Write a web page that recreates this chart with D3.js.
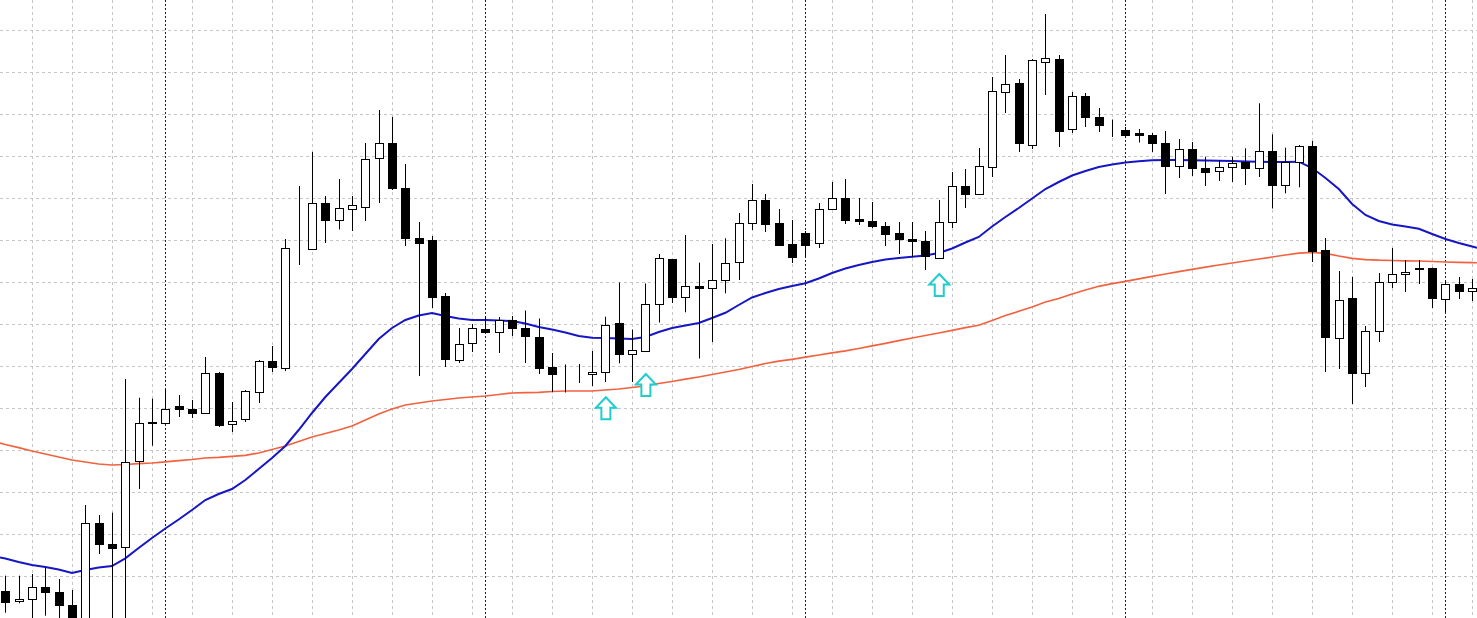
<!DOCTYPE html>
<html>
<head>
<meta charset="utf-8">
<script src="https://cdn.jsdelivr.net/npm/d3@7"></script>
<style>
  html, body { margin: 0; padding: 0; background: #ffffff; overflow: hidden; }
  svg { display: block; }
</style>
</head>
<body>
<svg id="chart" width="1477" height="618"></svg>
<script>
// ---------------- DATA (H1 bars, index 0..110) ----------------
const opens = [1.10273,1.1017,1.1019,1.10307,1.1026,1.1013,1.0996,1.10947,1.10737,1.1071,
1.1157,1.11945,1.11955,1.1212,1.1209,1.1205,1.1245,1.1194,1.1199,1.1226,
1.1257,1.1250,1.1370,1.1369,1.1415,1.13975,1.1409,1.1411,1.1460,1.1475,
1.1430,1.1380,1.1378,1.1322,1.1258,1.1275,1.1289,1.1286,1.1298,1.1290,
1.1281,1.12505,1.1244,1.1244,1.1244,1.1246,1.1295,1.1264,1.1267,1.13137,
1.13587,1.13207,1.1332,1.13297,1.13375,1.13557,1.1395,1.1418,1.1395,1.1374,
1.1385,1.1375,1.1409,1.1420,1.1399,1.1397,1.1392,1.1385,1.1379,1.1377,
1.1360,1.1396,1.1432,1.1424,1.1451,1.1526,1.1535,1.1473,1.1556,1.1559,
1.1489,1.1522,1.1501,1.14925,1.1488,1.14847,1.1483,1.1475,1.1452,1.14687,
1.1450,1.1447,1.14507,1.1456,1.1450,1.1467,1.1433,1.1456,1.1472,1.1368,
1.1280,1.1320,1.1245,1.1287,1.1336,1.1344,1.1349,1.1350,1.1319,1.1334,1.1327];

const highs = [1.10423,1.10423,1.1044,1.10503,1.1039,1.1028,1.1113,1.1103,1.11053,1.1239,
1.12203,1.12193,1.1229,1.1223,1.1218,1.1261,1.1246,1.1216,1.1228,1.1258,
1.1272,1.1379,1.1432,1.1466,1.1422,1.1439,1.1422,1.1475,1.1508,1.1501,
1.1454,1.1396,1.1382,1.1325,1.1290,1.1294,1.1302,1.1301,1.1302,1.13075,
1.12995,1.1265,1.12535,1.1254,1.1267,1.13013,1.13355,1.12885,1.13345,1.1364,
1.1359,1.1383,1.13553,1.1374,1.13797,1.1405,1.1434,1.1424,1.1409,1.1398,
1.1387,1.1415,1.1436,1.1439,1.1420,1.1416,1.1396,1.1396,1.1396,1.1387,
1.1418,1.1446,1.1449,1.1470,1.1541,1.1563,1.1539,1.1559,1.1604,1.1563,
1.1526,1.1525,1.1510,1.14985,1.1491,1.1489,1.1485,1.1487,1.1479,1.1476,
1.14613,1.1458,1.14613,1.14697,1.15147,1.14837,1.14703,1.1473,1.1477,1.1380,
1.1347,1.1341,1.1292,1.1345,1.1370,1.1358,1.1358,1.13505,1.1337,1.1341,1.1339];

const lows = [1.10053,1.10147,1.0996,1.10023,1.0999,1.0990,1.0988,1.1064,1.0978,1.0993,
1.1129,1.11723,1.11945,1.1201,1.1200,1.1204,1.1191,1.1186,1.1196,1.1215,
1.1246,1.1247,1.1353,1.13685,1.1375,1.13885,1.1387,1.1397,1.1415,1.1428,
1.1372,1.1242,1.1310,1.1251,1.1255,1.1266,1.1285,1.1265,1.1282,1.1255,
1.1244,1.1226,1.12255,1.1235,1.1232,1.1236,1.12547,1.1236,1.1266,1.12955,
1.1315,1.13057,1.12595,1.1276,1.13247,1.1338,1.1388,1.1386,1.1372,1.1355,
1.1361,1.1370,1.1408,1.1394,1.1393,1.1390,1.1372,1.1364,1.1361,1.1348,
1.1359,1.1390,1.1410,1.1423,1.1441,1.1505,1.1466,1.1469,1.1523,1.1471,
1.1485,1.1491,1.1486,1.1481,1.1480,1.14755,1.1466,1.1424,1.1440,1.1442,
1.1432,1.1437,1.1436,1.1433,1.1441,1.14095,1.14247,1.14307,1.1356,1.1246,
1.1249,1.1214,1.1231,1.1276,1.1330,1.1326,1.1334,1.1310,1.1306,1.1319,1.1317];

const closes = [1.10163,1.1019,1.10307,1.10257,1.1013,1.0996,1.10947,1.1074,1.10697,1.1156,
1.1195,1.11965,1.1209,1.1209,1.1205,1.1245,1.1193,1.1197,1.1227,1.1257,
1.1251,1.1370,1.13705,1.1415,1.1398,1.1410,1.1413,1.1459,1.1475,1.1430,
1.1380,1.1375,1.1321,1.1259,1.1274,1.1290,1.1286,1.1298,1.1290,1.1282,
1.1250,1.1244,1.1244,1.1244,1.12463,1.1293,1.1264,1.1268,1.13137,1.13595,
1.13207,1.1332,1.13303,1.1338,1.13553,1.13947,1.1418,1.1394,1.1373,1.1361,
1.1373,1.1409,1.1420,1.1398,1.1397,1.1392,1.1384,1.1379,1.1377,1.1362,
1.1396,1.1432,1.14245,1.1452,1.1527,1.1534,1.1475,1.1558,1.1560,1.1487,
1.1522,1.1501,1.14925,1.14925,1.1483,1.14827,1.14745,1.1452,1.14687,1.1450,
1.14457,1.14507,1.14553,1.1450,1.1467,1.1433,1.14557,1.1472,1.1367,1.1281,
1.1318,1.1245,1.1287,1.1336,1.1344,1.1346,1.13505,1.1320,1.1334,1.1327,1.1330];

// moving averages, bar index -1 .. 111
const maFastStart = -1;
const maFast = [1.1062,1.10595,1.1056,1.1053,1.1051,1.10485,1.1045,1.1048,1.10505,1.1052,
1.10597,1.1070,1.1080,1.10895,1.10985,1.1108,1.1118,1.1124,1.1129,1.1138,
1.1149,1.1160,1.1172,1.1188,1.1205,1.1221,1.1235,1.1249,1.1264,1.1279,
1.1290,1.1298,1.13025,1.1305,1.1302,1.12995,1.1298,1.1298,1.12975,1.1297,
1.12945,1.1291,1.12885,1.12855,1.1282,1.12803,1.1280,1.12795,1.1279,1.1281,
1.1286,1.1290,1.12925,1.1295,1.1300,1.13052,1.1313,1.13205,1.1325,1.1329,
1.1332,1.13347,1.13395,1.1345,1.13495,1.1353,1.1356,1.13585,1.1360,1.13613,
1.13625,1.1365,1.13695,1.13755,1.1381,1.13915,1.1401,1.1410,1.14195,1.1429,
1.1436,1.14425,1.1447,1.1451,1.14535,1.14556,1.14567,1.14577,1.1458,1.14579,
1.14577,1.14575,1.14572,1.1457,1.14565,1.14562,1.1456,1.1456,1.14563,1.1450,
1.1440,1.1429,1.1414,1.1403,1.1397,1.13935,1.13915,1.13892,1.1384,1.1379,
1.1375,1.13715,1.1368];

const maSlowStart = -1;
const maSlow = [1.1177,1.11735,1.11703,1.1167,1.1164,1.1161,1.1158,1.1156,1.1154,1.1153,
1.11535,1.11543,1.1155,1.11562,1.11573,1.11585,1.1160,1.11607,1.11617,1.11627,
1.1165,1.11685,1.1172,1.11765,1.1181,1.11845,1.1188,1.1192,1.1198,1.1204,
1.1209,1.1213,1.1215,1.1217,1.12185,1.1220,1.1221,1.1222,1.12235,1.1225,
1.12253,1.12257,1.12265,1.1227,1.1227,1.1227,1.1228,1.1229,1.12305,1.1232,
1.12345,1.12365,1.12388,1.1241,1.12435,1.1246,1.12485,1.12515,1.12545,1.12568,
1.12587,1.12608,1.1263,1.12651,1.12671,1.12695,1.12722,1.12747,1.12774,1.1280,
1.12825,1.1285,1.12877,1.12903,1.12927,1.12975,1.13025,1.13067,1.1311,1.1316,
1.13195,1.1324,1.1328,1.13317,1.13343,1.13367,1.13392,1.13417,1.1344,1.13463,
1.13486,1.13508,1.1353,1.1355,1.1357,1.1359,1.1361,1.1363,1.13648,1.13657,
1.13647,1.1362,1.13597,1.13584,1.13578,1.13575,1.13572,1.1357,1.13565,1.1356,
1.13556,1.13554,1.1355];

// buy-signal arrows (bar index, price of arrow tip)
const signalBars = [45, 48, 70];
const signalPrices = [1.12207, 1.1244, 1.1344];

// horizontal grid price levels
const gridBase = 1.1588;
const gridStep = 0.0042;
// day separators every 24 bars, starting at bar 12
const separatorBars = [12, 36, 60, 84, 108];

// ---------------- DRAW ----------------
const W = 1477, H = 618;
const svg = d3.select("#chart");

const x = d3.scaleLinear().domain([0, 110]).range([5.3, 1472.15]);
const y = d3.scaleLinear().domain([1.1618, 1.1000]).range([0, 618]);
const crisp = v => Math.round(v) + 0.5;

svg.append("rect").attr("width", W).attr("height", H).attr("fill", "#ffffff");

const clip = svg.append("defs").append("clipPath").attr("id", "plot");
clip.append("rect").attr("width", W).attr("height", H);

const g = svg.append("g").attr("clip-path", "url(#plot)");

// vertical light grid: every 3 bars from bar 2
const vGrid = d3.range(-1, 112, 3);
g.append("g").selectAll("line").data(vGrid).join("line")
  .attr("x1", d => crisp(x(d))).attr("x2", d => crisp(x(d)))
  .attr("y1", 0).attr("y2", H)
  .attr("stroke", "#c6c6c6").attr("stroke-width", 1).attr("stroke-dasharray", "3,3");

// horizontal light grid
const hGrid = d3.range(0, 16).map(k => gridBase - k * gridStep);
g.append("g").selectAll("line").data(hGrid).join("line")
  .attr("x1", 0).attr("x2", W)
  .attr("y1", d => crisp(y(d))).attr("y2", d => crisp(y(d)))
  .attr("stroke", "#c6c6c6").attr("stroke-width", 1).attr("stroke-dasharray", "3,3");

// day separators
g.append("g").selectAll("line").data(separatorBars).join("line")
  .attr("x1", d => crisp(x(d))).attr("x2", d => crisp(x(d)))
  .attr("y1", 0).attr("y2", H)
  .attr("stroke", "#222").attr("stroke-width", 1).attr("stroke-dasharray", "2,2");

// moving averages
const line = d3.line().x(d => x(d.i)).y(d => y(d.v));
const slowPts = maSlow.map((v, k) => ({ i: k + maSlowStart, v }));
const fastPts = maFast.map((v, k) => ({ i: k + maFastStart, v }));
g.append("path").datum(slowPts).attr("d", line)
  .attr("fill", "none").attr("stroke", "#f2623f").attr("stroke-width", 1.7);
g.append("path").datum(fastPts).attr("d", line)
  .attr("fill", "none").attr("stroke", "#1616c4").attr("stroke-width", 2);

// candles
const bars = d3.range(opens.length).map(i => ({
  i, o: opens[i], h: highs[i], l: lows[i], c: closes[i]
}));
const cg = g.append("g").selectAll("g").data(bars).join("g");
cg.append("line")
  .attr("x1", d => crisp(x(d.i))).attr("x2", d => crisp(x(d.i)))
  .attr("y1", d => y(d.h)).attr("y2", d => y(d.l))
  .attr("stroke", "#000").attr("stroke-width", 1);
cg.append("rect")
  .attr("x", d => Math.round(x(d.i)) - 3.5)
  .attr("width", 8)
  .attr("y", d => crisp(y(Math.max(d.o, d.c))))
  .attr("height", d => Math.max(0, crisp(y(Math.min(d.o, d.c))) - crisp(y(Math.max(d.o, d.c)))))
  .attr("fill", d => d.c < d.o ? "#000" : "#fff")
  .attr("stroke", "#000").attr("stroke-width", 1);

// signal arrows
const arrowShape = [[0,0],[10,10.5],[4.5,10.5],[4.5,22],[-4.5,22],[-4.5,10.5],[-10,10.5]];
g.append("g").selectAll("path").data(signalBars.map((b, k) => ({ b, p: signalPrices[k] })))
  .join("path")
  .attr("d", d => {
    const cx = x(d.b) + 0.5, ty = y(d.p);
    return "M" + arrowShape.map(([dx, dy]) => (cx + dx) + "," + (ty + dy)).join("L") + "Z";
  })
  .attr("fill", "#ffffff").attr("stroke", "#20cccc").attr("stroke-width", 2)
  .attr("stroke-linejoin", "miter");
</script>
</body>
</html>
